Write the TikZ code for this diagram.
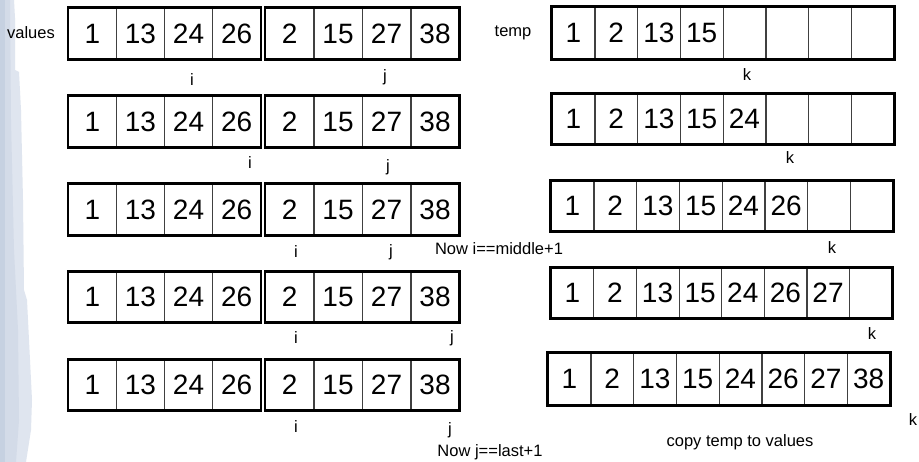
\documentclass[tikz,border=0pt]{standalone}
\usepackage{fontspec}
\setmainfont{Liberation Sans}
\definecolor{decoA}{HTML}{DFE5EF}
\definecolor{decoB}{HTML}{C6D1E1}
\definecolor{decoC}{HTML}{D3DBE8}
\newcommand{\drawvalrow}[3]{%
  \foreach \v [count=\c] in {1,13,24,26} {
    \node[cellv, minimum width=48.1pt, minimum height={#3-#2}] (#1L\c) at ({68.3+48.1*(\c-0.5)},{(#2+#3)/2}) {\v};
  }
  \foreach \v [count=\c] in {2,15,27,38} {
    \node[cellv, minimum width=48.5pt, minimum height={#3-#2}] (#1R\c) at ({265.3+48.5*(\c-0.5)},{(#2+#3)/2}) {\v};
  }
  \foreach \c in {1,2,3} {
    \draw[divider] (#1L\c.north east) -- (#1L\c.south east);
    \draw[divider] (#1R\c.north east) -- (#1R\c.south east);
  }
  \draw[outer] (#1L1.north west) rectangle (#1L4.south east);
  \draw[outer] (#1R1.north west) rectangle (#1R4.south east);
}
\newcommand{\drawtemprow}[6]{% name, top, bottom, left, right, contents
  \foreach \v [count=\c] in {#6} {
    \node[cellv, minimum height={#3-#2}, minimum width={(#5-#4)/8}] (#1T\c) at ({#4+(#5-#4)/8*(\c-0.5)},{(#2+#3)/2}) {\v};
  }
  \foreach \c in {1,...,7} {
    \draw[divider] (#1T\c.north east) -- (#1T\c.south east);
  }
  \draw[outer] (#1T1.north west) rectangle (#1T8.south east);
}
\begin{document}
\begin{tikzpicture}[x=1pt,y=-1pt,
  cellv/.style={inner sep=0pt, text height=20pt, text depth=0pt, font=\fontsize{28}{28}\selectfont},
  lbl/.style={inner sep=0pt, font=\fontsize{16.5}{17}\selectfont},
  outer/.style={line width=2.7pt, black},
  divider/.style={line width=1.1pt, black!75}]
\useasboundingbox (0,0) rectangle (919,462);
\fill[white] (0,0) rectangle (919,462);
% left decoration
\fill[decoA] (0,0) -- (14,0) -- (15,18) -- (15,70) -- (19,72) -- (21,110) -- (23,200) -- (24,290) -- (27,300) -- (30,360) -- (32,400) -- (31,430) -- (26,462) -- (0,462) -- cycle;
\fill[decoC] (0,0) -- (10,0) -- (11,120) -- (14,250) -- (18,330) -- (19,420) -- (16,462) -- (0,462) -- cycle;
\fill[decoB] (0,0) rectangle (5,462);
% values arrays
\drawvalrow{a}{8}{59}
\drawvalrow{b}{96}{147}
\drawvalrow{c}{184}{235}
\drawvalrow{d}{272}{322}
\drawvalrow{e}{360}{410}
% temp arrays
\drawtemprow{a}{7}{59}{552}{894}{1,2,13,15,{},{},{},{}}
\drawtemprow{b}{94}{144}{552}{894}{1,2,13,15,24,{},{},{}}
\drawtemprow{c}{181}{231}{551}{893}{1,2,13,15,24,26,{},{}}
\drawtemprow{d}{268}{318}{551}{892}{1,2,13,15,24,26,27,{}}
\drawtemprow{e}{353}{405}{548}{890}{1,2,13,15,24,26,27,38}
% labels
\node[lbl] (lvalues) at (31,33) {values};
\node[lbl] (ltemp) at (513,33) {temp};
\node[lbl] (ia) at (192,80) {i};
\node[lbl] (ja) at (385,77) {j};
\node[lbl] (ib) at (250,163) {i};
\node[lbl] (jb) at (388,167) {j};
\node[lbl] (ic) at (296,252) {i};
\node[lbl] (jc) at (391,252) {j};
\node[lbl] (nowi) at (499,249) {Now i==middle+1};
\node[lbl] (id) at (296,338) {i};
\node[lbl] (jd) at (452,338) {j};
\node[lbl] (ie) at (296,427) {i};
\node[lbl] (je) at (450,430) {j};
\node[lbl] (nowj) at (490,452) {Now j==last+1};
\node[lbl] (ka) at (747,75) {k};
\node[lbl] (kb) at (790,158) {k};
\node[lbl] (kc) at (832,248) {k};
\node[lbl] (kd) at (872,334) {k};
\node[lbl] (ke) at (913,420) {k};
\node[lbl] (copy) at (740,442) {copy temp to values};
\end{tikzpicture}
\end{document}
